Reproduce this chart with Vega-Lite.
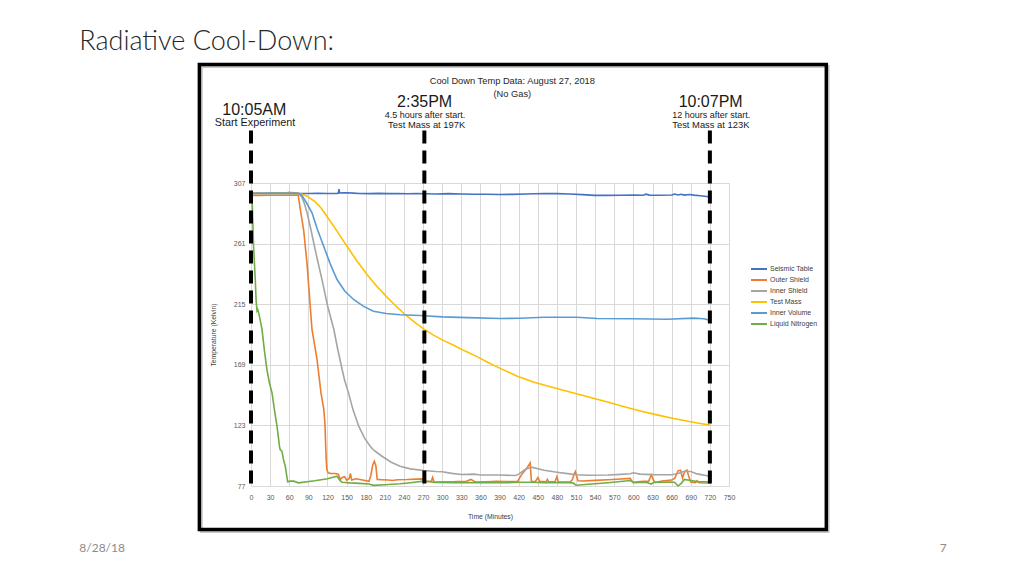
{
  "$schema": "https://vega.github.io/schema/vega-lite/v6.json",
  "width": 478,
  "height": 303,
  "autosize": {"type": "none"},
  "padding": {"left": 251, "top": 183, "right": 295, "bottom": 90},
  "background": "white",
  "config": {"view": {"stroke": null}, "font": "Liberation Sans"},
  "datasets": {
    "one": [{}],
    "markers": [{"minutes": 0}, {"minutes": 272}, {"minutes": 720}],
    "temps": [
      {"series": "Seismic Table", "minutes": 0, "kelvin": 299.2},
      {"series": "Seismic Table", "minutes": 10, "kelvin": 299.3},
      {"series": "Seismic Table", "minutes": 20, "kelvin": 299.2},
      {"series": "Seismic Table", "minutes": 30, "kelvin": 299.4},
      {"series": "Seismic Table", "minutes": 40, "kelvin": 299.5},
      {"series": "Seismic Table", "minutes": 50, "kelvin": 299.4},
      {"series": "Seismic Table", "minutes": 60, "kelvin": 299.7},
      {"series": "Seismic Table", "minutes": 68, "kelvin": 299.6},
      {"series": "Seismic Table", "minutes": 75, "kelvin": 299.1},
      {"series": "Seismic Table", "minutes": 90, "kelvin": 299.0},
      {"series": "Seismic Table", "minutes": 105, "kelvin": 299.1},
      {"series": "Seismic Table", "minutes": 120, "kelvin": 299.0},
      {"series": "Seismic Table", "minutes": 135, "kelvin": 299.1},
      {"series": "Seismic Table", "minutes": 137, "kelvin": 299.2},
      {"series": "Seismic Table", "minutes": 138, "kelvin": 302.4},
      {"series": "Seismic Table", "minutes": 139, "kelvin": 299.4},
      {"series": "Seismic Table", "minutes": 145, "kelvin": 299.5},
      {"series": "Seismic Table", "minutes": 152, "kelvin": 299.6},
      {"series": "Seismic Table", "minutes": 160, "kelvin": 299.3},
      {"series": "Seismic Table", "minutes": 170, "kelvin": 299.0},
      {"series": "Seismic Table", "minutes": 185, "kelvin": 298.9},
      {"series": "Seismic Table", "minutes": 200, "kelvin": 299.1},
      {"series": "Seismic Table", "minutes": 215, "kelvin": 298.9},
      {"series": "Seismic Table", "minutes": 230, "kelvin": 299.0},
      {"series": "Seismic Table", "minutes": 245, "kelvin": 298.8},
      {"series": "Seismic Table", "minutes": 260, "kelvin": 299.0},
      {"series": "Seismic Table", "minutes": 275, "kelvin": 298.8},
      {"series": "Seismic Table", "minutes": 290, "kelvin": 298.7},
      {"series": "Seismic Table", "minutes": 310, "kelvin": 298.9},
      {"series": "Seismic Table", "minutes": 330, "kelvin": 298.7},
      {"series": "Seismic Table", "minutes": 350, "kelvin": 298.5},
      {"series": "Seismic Table", "minutes": 370, "kelvin": 298.5},
      {"series": "Seismic Table", "minutes": 390, "kelvin": 298.3},
      {"series": "Seismic Table", "minutes": 410, "kelvin": 298.4},
      {"series": "Seismic Table", "minutes": 430, "kelvin": 298.6},
      {"series": "Seismic Table", "minutes": 445, "kelvin": 298.8},
      {"series": "Seismic Table", "minutes": 460, "kelvin": 298.9},
      {"series": "Seismic Table", "minutes": 480, "kelvin": 298.9},
      {"series": "Seismic Table", "minutes": 500, "kelvin": 298.6},
      {"series": "Seismic Table", "minutes": 520, "kelvin": 298.2},
      {"series": "Seismic Table", "minutes": 540, "kelvin": 297.6},
      {"series": "Seismic Table", "minutes": 560, "kelvin": 297.6},
      {"series": "Seismic Table", "minutes": 580, "kelvin": 297.7},
      {"series": "Seismic Table", "minutes": 600, "kelvin": 297.8},
      {"series": "Seismic Table", "minutes": 615, "kelvin": 297.7},
      {"series": "Seismic Table", "minutes": 620, "kelvin": 298.5},
      {"series": "Seismic Table", "minutes": 625, "kelvin": 297.8},
      {"series": "Seismic Table", "minutes": 640, "kelvin": 297.7},
      {"series": "Seismic Table", "minutes": 660, "kelvin": 297.9},
      {"series": "Seismic Table", "minutes": 665, "kelvin": 298.6},
      {"series": "Seismic Table", "minutes": 670, "kelvin": 297.9},
      {"series": "Seismic Table", "minutes": 675, "kelvin": 298.4},
      {"series": "Seismic Table", "minutes": 680, "kelvin": 297.8},
      {"series": "Seismic Table", "minutes": 688, "kelvin": 298.3},
      {"series": "Seismic Table", "minutes": 695, "kelvin": 297.8},
      {"series": "Seismic Table", "minutes": 705, "kelvin": 297.3},
      {"series": "Seismic Table", "minutes": 715, "kelvin": 296.8},
      {"series": "Seismic Table", "minutes": 720, "kelvin": 296.4},

      {"series": "Outer Shield", "minutes": 0, "kelvin": 299.2},
      {"series": "Outer Shield", "minutes": 2, "kelvin": 297.6},
      {"series": "Outer Shield", "minutes": 10, "kelvin": 297.6},
      {"series": "Outer Shield", "minutes": 30, "kelvin": 297.7},
      {"series": "Outer Shield", "minutes": 50, "kelvin": 297.7},
      {"series": "Outer Shield", "minutes": 74, "kelvin": 297.8},
      {"series": "Outer Shield", "minutes": 78, "kelvin": 285},
      {"series": "Outer Shield", "minutes": 82.5, "kelvin": 271.7},
      {"series": "Outer Shield", "minutes": 87.8, "kelvin": 246.4},
      {"series": "Outer Shield", "minutes": 95.7, "kelvin": 195.8},
      {"series": "Outer Shield", "minutes": 103.6, "kelvin": 173},
      {"series": "Outer Shield", "minutes": 109.8, "kelvin": 147.7},
      {"series": "Outer Shield", "minutes": 114, "kelvin": 136},
      {"series": "Outer Shield", "minutes": 116, "kelvin": 125},
      {"series": "Outer Shield", "minutes": 117, "kelvin": 110},
      {"series": "Outer Shield", "minutes": 118, "kelvin": 97},
      {"series": "Outer Shield", "minutes": 119, "kelvin": 89.5},
      {"series": "Outer Shield", "minutes": 121, "kelvin": 87},
      {"series": "Outer Shield", "minutes": 125, "kelvin": 86.5},
      {"series": "Outer Shield", "minutes": 132, "kelvin": 86.5},
      {"series": "Outer Shield", "minutes": 137, "kelvin": 86},
      {"series": "Outer Shield", "minutes": 140, "kelvin": 82},
      {"series": "Outer Shield", "minutes": 143, "kelvin": 83.5},
      {"series": "Outer Shield", "minutes": 147, "kelvin": 84},
      {"series": "Outer Shield", "minutes": 150, "kelvin": 81.5},
      {"series": "Outer Shield", "minutes": 154, "kelvin": 82.5},
      {"series": "Outer Shield", "minutes": 156, "kelvin": 86.5},
      {"series": "Outer Shield", "minutes": 158, "kelvin": 81.5},
      {"series": "Outer Shield", "minutes": 165, "kelvin": 82.5},
      {"series": "Outer Shield", "minutes": 175, "kelvin": 81.5},
      {"series": "Outer Shield", "minutes": 185, "kelvin": 80.5},
      {"series": "Outer Shield", "minutes": 188, "kelvin": 85},
      {"series": "Outer Shield", "minutes": 191, "kelvin": 93},
      {"series": "Outer Shield", "minutes": 193.5, "kelvin": 95.8},
      {"series": "Outer Shield", "minutes": 196, "kelvin": 92},
      {"series": "Outer Shield", "minutes": 198, "kelvin": 82},
      {"series": "Outer Shield", "minutes": 205, "kelvin": 81.8},
      {"series": "Outer Shield", "minutes": 215, "kelvin": 81.5},
      {"series": "Outer Shield", "minutes": 222, "kelvin": 81.2},
      {"series": "Outer Shield", "minutes": 230, "kelvin": 81.8},
      {"series": "Outer Shield", "minutes": 245, "kelvin": 81.9},
      {"series": "Outer Shield", "minutes": 260, "kelvin": 82.2},
      {"series": "Outer Shield", "minutes": 270, "kelvin": 82.4},
      {"series": "Outer Shield", "minutes": 275, "kelvin": 80.5},
      {"series": "Outer Shield", "minutes": 283, "kelvin": 80.8},
      {"series": "Outer Shield", "minutes": 285, "kelvin": 83.5},
      {"series": "Outer Shield", "minutes": 287, "kelvin": 80},
      {"series": "Outer Shield", "minutes": 300, "kelvin": 80.2},
      {"series": "Outer Shield", "minutes": 320, "kelvin": 80.3},
      {"series": "Outer Shield", "minutes": 338, "kelvin": 80.6},
      {"series": "Outer Shield", "minutes": 345, "kelvin": 82},
      {"series": "Outer Shield", "minutes": 352, "kelvin": 80},
      {"series": "Outer Shield", "minutes": 370, "kelvin": 80.2},
      {"series": "Outer Shield", "minutes": 385, "kelvin": 80.5},
      {"series": "Outer Shield", "minutes": 400, "kelvin": 80.3},
      {"series": "Outer Shield", "minutes": 418, "kelvin": 80.3},
      {"series": "Outer Shield", "minutes": 425, "kelvin": 86},
      {"series": "Outer Shield", "minutes": 432, "kelvin": 90},
      {"series": "Outer Shield", "minutes": 438, "kelvin": 94.5},
      {"series": "Outer Shield", "minutes": 440, "kelvin": 80.6},
      {"series": "Outer Shield", "minutes": 446, "kelvin": 80.3},
      {"series": "Outer Shield", "minutes": 450, "kelvin": 83.3},
      {"series": "Outer Shield", "minutes": 453, "kelvin": 80.5},
      {"series": "Outer Shield", "minutes": 463, "kelvin": 80.2},
      {"series": "Outer Shield", "minutes": 465, "kelvin": 82},
      {"series": "Outer Shield", "minutes": 467, "kelvin": 80.2},
      {"series": "Outer Shield", "minutes": 477, "kelvin": 80.2},
      {"series": "Outer Shield", "minutes": 480, "kelvin": 84.1},
      {"series": "Outer Shield", "minutes": 482, "kelvin": 80.2},
      {"series": "Outer Shield", "minutes": 500, "kelvin": 80},
      {"series": "Outer Shield", "minutes": 504, "kelvin": 81.5},
      {"series": "Outer Shield", "minutes": 507, "kelvin": 86},
      {"series": "Outer Shield", "minutes": 509, "kelvin": 88},
      {"series": "Outer Shield", "minutes": 513, "kelvin": 81},
      {"series": "Outer Shield", "minutes": 520, "kelvin": 80.8},
      {"series": "Outer Shield", "minutes": 540, "kelvin": 81.3},
      {"series": "Outer Shield", "minutes": 560, "kelvin": 81.8},
      {"series": "Outer Shield", "minutes": 580, "kelvin": 82.3},
      {"series": "Outer Shield", "minutes": 595, "kelvin": 82.8},
      {"series": "Outer Shield", "minutes": 599, "kelvin": 79.9},
      {"series": "Outer Shield", "minutes": 610, "kelvin": 80.4},
      {"series": "Outer Shield", "minutes": 624, "kelvin": 80.7},
      {"series": "Outer Shield", "minutes": 628, "kelvin": 85.5},
      {"series": "Outer Shield", "minutes": 631, "kelvin": 82},
      {"series": "Outer Shield", "minutes": 634, "kelvin": 79.6},
      {"series": "Outer Shield", "minutes": 645, "kelvin": 80.8},
      {"series": "Outer Shield", "minutes": 660, "kelvin": 81.5},
      {"series": "Outer Shield", "minutes": 665, "kelvin": 83},
      {"series": "Outer Shield", "minutes": 670, "kelvin": 88.5},
      {"series": "Outer Shield", "minutes": 674, "kelvin": 89},
      {"series": "Outer Shield", "minutes": 677, "kelvin": 83},
      {"series": "Outer Shield", "minutes": 680, "kelvin": 87.5},
      {"series": "Outer Shield", "minutes": 684, "kelvin": 89},
      {"series": "Outer Shield", "minutes": 687, "kelvin": 84},
      {"series": "Outer Shield", "minutes": 690, "kelvin": 80},
      {"series": "Outer Shield", "minutes": 697, "kelvin": 79.5},
      {"series": "Outer Shield", "minutes": 700, "kelvin": 81},
      {"series": "Outer Shield", "minutes": 703, "kelvin": 79.5},
      {"series": "Outer Shield", "minutes": 720, "kelvin": 79.3},

      {"series": "Inner Shield", "minutes": 0, "kelvin": 299.2},
      {"series": "Inner Shield", "minutes": 20, "kelvin": 299.1},
      {"series": "Inner Shield", "minutes": 40, "kelvin": 299.1},
      {"series": "Inner Shield", "minutes": 60, "kelvin": 299.2},
      {"series": "Inner Shield", "minutes": 75, "kelvin": 299},
      {"series": "Inner Shield", "minutes": 80, "kelvin": 296},
      {"series": "Inner Shield", "minutes": 84, "kelvin": 291},
      {"series": "Inner Shield", "minutes": 88, "kelvin": 284.4},
      {"series": "Inner Shield", "minutes": 94, "kelvin": 271.7},
      {"series": "Inner Shield", "minutes": 100, "kelvin": 258},
      {"series": "Inner Shield", "minutes": 105, "kelvin": 247},
      {"series": "Inner Shield", "minutes": 111.4, "kelvin": 233.7},
      {"series": "Inner Shield", "minutes": 120, "kelvin": 214},
      {"series": "Inner Shield", "minutes": 130, "kelvin": 195.8},
      {"series": "Inner Shield", "minutes": 136, "kelvin": 181},
      {"series": "Inner Shield", "minutes": 143, "kelvin": 165.4},
      {"series": "Inner Shield", "minutes": 147, "kelvin": 157},
      {"series": "Inner Shield", "minutes": 153, "kelvin": 147.7},
      {"series": "Inner Shield", "minutes": 160, "kelvin": 135},
      {"series": "Inner Shield", "minutes": 169, "kelvin": 122.4},
      {"series": "Inner Shield", "minutes": 178, "kelvin": 113.5},
      {"series": "Inner Shield", "minutes": 187, "kelvin": 107.2},
      {"series": "Inner Shield", "minutes": 192, "kelvin": 104.5},
      {"series": "Inner Shield", "minutes": 196, "kelvin": 103},
      {"series": "Inner Shield", "minutes": 205.5, "kelvin": 99.6},
      {"series": "Inner Shield", "minutes": 220, "kelvin": 95},
      {"series": "Inner Shield", "minutes": 234, "kelvin": 92},
      {"series": "Inner Shield", "minutes": 250, "kelvin": 90},
      {"series": "Inner Shield", "minutes": 271, "kelvin": 88.8},
      {"series": "Inner Shield", "minutes": 290, "kelvin": 88},
      {"series": "Inner Shield", "minutes": 300, "kelvin": 87.8},
      {"series": "Inner Shield", "minutes": 315, "kelvin": 86.6},
      {"series": "Inner Shield", "minutes": 330, "kelvin": 85.7},
      {"series": "Inner Shield", "minutes": 350, "kelvin": 86},
      {"series": "Inner Shield", "minutes": 360, "kelvin": 85.4},
      {"series": "Inner Shield", "minutes": 390, "kelvin": 85.3},
      {"series": "Inner Shield", "minutes": 415, "kelvin": 85},
      {"series": "Inner Shield", "minutes": 420, "kelvin": 86},
      {"series": "Inner Shield", "minutes": 430, "kelvin": 89.5},
      {"series": "Inner Shield", "minutes": 440, "kelvin": 91.3},
      {"series": "Inner Shield", "minutes": 460, "kelvin": 89},
      {"series": "Inner Shield", "minutes": 480, "kelvin": 87.5},
      {"series": "Inner Shield", "minutes": 500, "kelvin": 86.2},
      {"series": "Inner Shield", "minutes": 510, "kelvin": 85.5},
      {"series": "Inner Shield", "minutes": 530, "kelvin": 85.2},
      {"series": "Inner Shield", "minutes": 560, "kelvin": 85.3},
      {"series": "Inner Shield", "minutes": 580, "kelvin": 85.8},
      {"series": "Inner Shield", "minutes": 595, "kelvin": 86.3},
      {"series": "Inner Shield", "minutes": 600, "kelvin": 87},
      {"series": "Inner Shield", "minutes": 610, "kelvin": 86},
      {"series": "Inner Shield", "minutes": 630, "kelvin": 85.6},
      {"series": "Inner Shield", "minutes": 660, "kelvin": 85.5},
      {"series": "Inner Shield", "minutes": 670, "kelvin": 86.5},
      {"series": "Inner Shield", "minutes": 680, "kelvin": 88.2},
      {"series": "Inner Shield", "minutes": 690, "kelvin": 88},
      {"series": "Inner Shield", "minutes": 700, "kelvin": 86.2},
      {"series": "Inner Shield", "minutes": 720, "kelvin": 84.4},

      {"series": "Test Mass", "minutes": 0, "kelvin": 299},
      {"series": "Test Mass", "minutes": 20, "kelvin": 299},
      {"series": "Test Mass", "minutes": 40, "kelvin": 299.1},
      {"series": "Test Mass", "minutes": 60, "kelvin": 299.2},
      {"series": "Test Mass", "minutes": 75, "kelvin": 299},
      {"series": "Test Mass", "minutes": 80, "kelvin": 298.5},
      {"series": "Test Mass", "minutes": 88, "kelvin": 297},
      {"series": "Test Mass", "minutes": 100, "kelvin": 293},
      {"series": "Test Mass", "minutes": 110, "kelvin": 288},
      {"series": "Test Mass", "minutes": 119, "kelvin": 281.8},
      {"series": "Test Mass", "minutes": 135, "kelvin": 270.5},
      {"series": "Test Mass", "minutes": 150.6, "kelvin": 259},
      {"series": "Test Mass", "minutes": 166, "kelvin": 248},
      {"series": "Test Mass", "minutes": 182, "kelvin": 237.5},
      {"series": "Test Mass", "minutes": 197, "kelvin": 228.8},
      {"series": "Test Mass", "minutes": 213, "kelvin": 220.6},
      {"series": "Test Mass", "minutes": 228, "kelvin": 213.3},
      {"series": "Test Mass", "minutes": 242, "kelvin": 207},
      {"series": "Test Mass", "minutes": 256, "kelvin": 201.5},
      {"series": "Test Mass", "minutes": 270.8, "kelvin": 196.3},
      {"series": "Test Mass", "minutes": 285, "kelvin": 191.9},
      {"series": "Test Mass", "minutes": 300, "kelvin": 187.9},
      {"series": "Test Mass", "minutes": 318, "kelvin": 183.8},
      {"series": "Test Mass", "minutes": 336, "kelvin": 179.4},
      {"series": "Test Mass", "minutes": 354.6, "kelvin": 175.2},
      {"series": "Test Mass", "minutes": 372, "kelvin": 170.8},
      {"series": "Test Mass", "minutes": 391, "kelvin": 166.3},
      {"series": "Test Mass", "minutes": 417, "kelvin": 160.5},
      {"series": "Test Mass", "minutes": 443, "kelvin": 156},
      {"series": "Test Mass", "minutes": 469.6, "kelvin": 152.4},
      {"series": "Test Mass", "minutes": 493, "kelvin": 149.3},
      {"series": "Test Mass", "minutes": 516.7, "kelvin": 146.3},
      {"series": "Test Mass", "minutes": 540, "kelvin": 143.3},
      {"series": "Test Mass", "minutes": 563.8, "kelvin": 140.2},
      {"series": "Test Mass", "minutes": 587, "kelvin": 137},
      {"series": "Test Mass", "minutes": 610.9, "kelvin": 134},
      {"series": "Test Mass", "minutes": 637, "kelvin": 131},
      {"series": "Test Mass", "minutes": 663, "kelvin": 128.2},
      {"series": "Test Mass", "minutes": 690, "kelvin": 125.8},
      {"series": "Test Mass", "minutes": 705, "kelvin": 124.5},
      {"series": "Test Mass", "minutes": 720, "kelvin": 123.2},

      {"series": "Inner Volume", "minutes": 0, "kelvin": 299},
      {"series": "Inner Volume", "minutes": 30, "kelvin": 299.1},
      {"series": "Inner Volume", "minutes": 60, "kelvin": 299.2},
      {"series": "Inner Volume", "minutes": 76, "kelvin": 299},
      {"series": "Inner Volume", "minutes": 80, "kelvin": 297.5},
      {"series": "Inner Volume", "minutes": 87, "kelvin": 292},
      {"series": "Inner Volume", "minutes": 95.7, "kelvin": 284.4},
      {"series": "Inner Volume", "minutes": 104, "kelvin": 272},
      {"series": "Inner Volume", "minutes": 114, "kelvin": 259},
      {"series": "Inner Volume", "minutes": 124, "kelvin": 246},
      {"series": "Inner Volume", "minutes": 135, "kelvin": 233.7},
      {"series": "Inner Volume", "minutes": 147, "kelvin": 225},
      {"series": "Inner Volume", "minutes": 161, "kelvin": 218.6},
      {"series": "Inner Volume", "minutes": 176, "kelvin": 213.5},
      {"series": "Inner Volume", "minutes": 192, "kelvin": 209.7},
      {"series": "Inner Volume", "minutes": 212, "kelvin": 208},
      {"series": "Inner Volume", "minutes": 234, "kelvin": 207},
      {"series": "Inner Volume", "minutes": 265.6, "kelvin": 206.4},
      {"series": "Inner Volume", "minutes": 300, "kelvin": 205.4},
      {"series": "Inner Volume", "minutes": 340, "kelvin": 204.8},
      {"series": "Inner Volume", "minutes": 391, "kelvin": 204.2},
      {"series": "Inner Volume", "minutes": 422, "kelvin": 204.3},
      {"series": "Inner Volume", "minutes": 459, "kelvin": 205.1},
      {"series": "Inner Volume", "minutes": 511, "kelvin": 205.1},
      {"series": "Inner Volume", "minutes": 543, "kelvin": 204.2},
      {"series": "Inner Volume", "minutes": 600, "kelvin": 203.9},
      {"series": "Inner Volume", "minutes": 652.8, "kelvin": 203.6},
      {"series": "Inner Volume", "minutes": 694.5, "kelvin": 204.4},
      {"series": "Inner Volume", "minutes": 710, "kelvin": 204},
      {"series": "Inner Volume", "minutes": 720, "kelvin": 202.9},

      {"series": "Liquid Nitrogen", "minutes": 0, "kelvin": 299.5},
      {"series": "Liquid Nitrogen", "minutes": 1.6, "kelvin": 297},
      {"series": "Liquid Nitrogen", "minutes": 3, "kelvin": 275},
      {"series": "Liquid Nitrogen", "minutes": 4, "kelvin": 259},
      {"series": "Liquid Nitrogen", "minutes": 6.7, "kelvin": 233.7},
      {"series": "Liquid Nitrogen", "minutes": 8, "kelvin": 218},
      {"series": "Liquid Nitrogen", "minutes": 9.4, "kelvin": 210},
      {"series": "Liquid Nitrogen", "minutes": 10.5, "kelvin": 211},
      {"series": "Liquid Nitrogen", "minutes": 12, "kelvin": 208.5},
      {"series": "Liquid Nitrogen", "minutes": 14, "kelvin": 204},
      {"series": "Liquid Nitrogen", "minutes": 17.3, "kelvin": 195.8},
      {"series": "Liquid Nitrogen", "minutes": 21, "kelvin": 180},
      {"series": "Liquid Nitrogen", "minutes": 25, "kelvin": 165.4},
      {"series": "Liquid Nitrogen", "minutes": 29, "kelvin": 155},
      {"series": "Liquid Nitrogen", "minutes": 33, "kelvin": 147.7},
      {"series": "Liquid Nitrogen", "minutes": 37, "kelvin": 134},
      {"series": "Liquid Nitrogen", "minutes": 40.8, "kelvin": 122.4},
      {"series": "Liquid Nitrogen", "minutes": 45, "kelvin": 106},
      {"series": "Liquid Nitrogen", "minutes": 46, "kelvin": 104.5},
      {"series": "Liquid Nitrogen", "minutes": 48.6, "kelvin": 103.4},
      {"series": "Liquid Nitrogen", "minutes": 51, "kelvin": 97},
      {"series": "Liquid Nitrogen", "minutes": 53.8, "kelvin": 92},
      {"series": "Liquid Nitrogen", "minutes": 57.5, "kelvin": 80.2},
      {"series": "Liquid Nitrogen", "minutes": 61.7, "kelvin": 80.7},
      {"series": "Liquid Nitrogen", "minutes": 67, "kelvin": 80.7},
      {"series": "Liquid Nitrogen", "minutes": 74.7, "kelvin": 79.4},
      {"series": "Liquid Nitrogen", "minutes": 100, "kelvin": 81},
      {"series": "Liquid Nitrogen", "minutes": 120, "kelvin": 82.5},
      {"series": "Liquid Nitrogen", "minutes": 135, "kelvin": 84.4},
      {"series": "Liquid Nitrogen", "minutes": 140, "kelvin": 81},
      {"series": "Liquid Nitrogen", "minutes": 142.8, "kelvin": 79.9},
      {"series": "Liquid Nitrogen", "minutes": 155, "kelvin": 79.4},
      {"series": "Liquid Nitrogen", "minutes": 170, "kelvin": 79},
      {"series": "Liquid Nitrogen", "minutes": 185, "kelvin": 78.5},
      {"series": "Liquid Nitrogen", "minutes": 192, "kelvin": 77.5},
      {"series": "Liquid Nitrogen", "minutes": 210, "kelvin": 78},
      {"series": "Liquid Nitrogen", "minutes": 234, "kelvin": 78.7},
      {"series": "Liquid Nitrogen", "minutes": 250, "kelvin": 79.5},
      {"series": "Liquid Nitrogen", "minutes": 270.8, "kelvin": 80.7},
      {"series": "Liquid Nitrogen", "minutes": 290, "kelvin": 79.6},
      {"series": "Liquid Nitrogen", "minutes": 320, "kelvin": 79.5},
      {"series": "Liquid Nitrogen", "minutes": 360, "kelvin": 79.6},
      {"series": "Liquid Nitrogen", "minutes": 400, "kelvin": 79.5},
      {"series": "Liquid Nitrogen", "minutes": 420, "kelvin": 79.8},
      {"series": "Liquid Nitrogen", "minutes": 440, "kelvin": 79.9},
      {"series": "Liquid Nitrogen", "minutes": 460, "kelvin": 79.6},
      {"series": "Liquid Nitrogen", "minutes": 490, "kelvin": 79.6},
      {"series": "Liquid Nitrogen", "minutes": 505, "kelvin": 79.4},
      {"series": "Liquid Nitrogen", "minutes": 510, "kelvin": 77.6},
      {"series": "Liquid Nitrogen", "minutes": 530, "kelvin": 78.3},
      {"series": "Liquid Nitrogen", "minutes": 560, "kelvin": 79.5},
      {"series": "Liquid Nitrogen", "minutes": 595, "kelvin": 81.2},
      {"series": "Liquid Nitrogen", "minutes": 600, "kelvin": 79.5},
      {"series": "Liquid Nitrogen", "minutes": 620, "kelvin": 79.8},
      {"series": "Liquid Nitrogen", "minutes": 628, "kelvin": 78.5},
      {"series": "Liquid Nitrogen", "minutes": 632, "kelvin": 79.8},
      {"series": "Liquid Nitrogen", "minutes": 660, "kelvin": 80},
      {"series": "Liquid Nitrogen", "minutes": 665, "kelvin": 79.6},
      {"series": "Liquid Nitrogen", "minutes": 670, "kelvin": 77},
      {"series": "Liquid Nitrogen", "minutes": 675, "kelvin": 79},
      {"series": "Liquid Nitrogen", "minutes": 680, "kelvin": 82},
      {"series": "Liquid Nitrogen", "minutes": 690, "kelvin": 81.2},
      {"series": "Liquid Nitrogen", "minutes": 700, "kelvin": 80.3},
      {"series": "Liquid Nitrogen", "minutes": 720, "kelvin": 80}
    ]
  },
  "layer": [
    {
      "data": {"name": "one"},
      "mark": {"type": "rect", "fill": "white", "fillOpacity": 0, "stroke": "#c8c8c8", "strokeWidth": 3},
      "encoding": {"x": {"datum": -78}, "x2": {"datum": 905.5}, "y": {"datum": 395.5}, "y2": {"datum": 42.5}}
    },
    {
      "data": {"name": "one"},
      "mark": {"type": "rect", "fill": "white", "fillOpacity": 0, "stroke": "black", "strokeWidth": 3.5},
      "encoding": {"x": {"datum": -81}, "x2": {"datum": 902.7}, "y": {"datum": 397}, "y2": {"datum": 44}}
    },
    {
      "data": {"name": "temps"},
      "mark": {"type": "line", "strokeWidth": 1.6},
      "encoding": {
        "x": {
          "field": "minutes", "type": "quantitative",
          "scale": {"domain": [0, 750], "nice": false, "zero": false},
          "axis": {
            "title": "Time (Minutes)",
            "values": [0, 30, 60, 90, 120, 150, 180, 210, 240, 270, 300, 330, 360, 390, 420, 450, 480, 510, 540, 570, 600, 630, 660, 690, 720, 750],
            "tickCount": 40,
            "grid": true, "gridColor": "#d9d9d9", "gridWidth": 1,
            "domain": false, "ticks": false,
            "labelFontSize": 7, "labelColor": "#595959", "labelPadding": 7,
            "labelFlush": false, "labelOverlap": false, "labelBound": false,
            "titleFontSize": 6.8, "titleFontWeight": "normal", "titleColor": "#404040", "titlePadding": 13
          }
        },
        "y": {
          "field": "kelvin", "type": "quantitative",
          "scale": {"domain": [77, 307], "nice": false, "zero": false},
          "axis": {
            "title": "Temperature (Kelvin)",
            "values": [77, 123, 169, 215, 261, 307],
            "tickCount": 10,
            "grid": true, "gridColor": "#d9d9d9", "gridWidth": 1,
            "domain": false, "ticks": false,
            "labelFontSize": 7, "labelColor": "#595959", "labelPadding": 6,
            "labelFlush": false, "labelOverlap": false,
            "titleFontSize": 6.8, "titleFontWeight": "normal", "titleColor": "#404040", "titlePadding": 17
          }
        },
        "color": {
          "field": "series", "type": "nominal",
          "scale": {
            "domain": ["Seismic Table", "Outer Shield", "Inner Shield", "Test Mass", "Inner Volume", "Liquid Nitrogen"],
            "range": ["#4472c4", "#ed7d31", "#a5a5a5", "#ffc000", "#5b9bd5", "#70ad47"]
          },
          "legend": {
            "title": null, "orient": "none", "legendX": 502, "legendY": 80,
            "symbolType": "M-1.6,0H1.6", "symbolSize": 100, "symbolStrokeWidth": 2,
            "symbolFillColor": "transparent",
            "labelFontSize": 7, "labelColor": "#404040", "labelOffset": 5,
            "rowPadding": 1, "padding": 0
          }
        }
      }
    },
    {
      "data": {"name": "markers"},
      "mark": {"type": "rule", "strokeWidth": 4, "strokeDash": [13, 7], "color": "black"},
      "encoding": {"x": {"field": "minutes", "type": "quantitative"}, "y": {"datum": 346.9}, "y2": {"datum": 74}}
    },
    {
      "data": {"name": "one"},
      "mark": {"type": "text", "text": "Radiative Cool-Down:", "font": "Lato", "fontWeight": 300, "fontSize": 27, "align": "left", "baseline": "alphabetic", "color": "#262626"},
      "encoding": {"x": {"datum": -269.4}, "y": {"datum": 408.3}}
    },
    {
      "data": {"name": "one"},
      "mark": {"type": "text", "text": "8/28/18", "font": "Lato", "fontSize": 12, "align": "left", "baseline": "middle", "color": "#8b8b8b"},
      "encoding": {"x": {"datum": -269.4}, "y": {"datum": 29.6}}
    },
    {
      "data": {"name": "one"},
      "mark": {"type": "text", "text": "7", "font": "Lato", "fontSize": 12, "align": "center", "baseline": "middle", "color": "#8b8b8b"},
      "encoding": {"x": {"datum": 1086.3}, "y": {"datum": 29.6}}
    },
    {
      "data": {"name": "one"},
      "mark": {"type": "text", "text": "Cool Down Temp Data: August 27, 2018", "fontSize": 9.3, "align": "center", "baseline": "alphabetic", "color": "#262626"},
      "encoding": {"x": {"datum": 410}, "y": {"datum": 382.2}}
    },
    {
      "data": {"name": "one"},
      "mark": {"type": "text", "text": "(No Gas)", "fontSize": 9.3, "align": "center", "baseline": "alphabetic", "color": "#262626"},
      "encoding": {"x": {"datum": 410}, "y": {"datum": 372.3}}
    },
    {
      "data": {"name": "one"},
      "mark": {"type": "text", "text": "10:05AM", "fontSize": 16, "align": "center", "baseline": "alphabetic", "color": "#1a1a1a"},
      "encoding": {"x": {"datum": 5.2}, "y": {"datum": 358.9}}
    },
    {
      "data": {"name": "one"},
      "mark": {"type": "text", "text": "Start Experiment", "fontSize": 10.8, "align": "center", "baseline": "alphabetic", "color": "#1a1a1a"},
      "encoding": {"x": {"datum": 6.3}, "y": {"datum": 350.1}}
    },
    {
      "data": {"name": "one"},
      "mark": {"type": "text", "text": "2:35PM", "fontSize": 16, "align": "center", "baseline": "alphabetic", "color": "#1a1a1a"},
      "encoding": {"x": {"datum": 272.4}, "y": {"datum": 364.5}}
    },
    {
      "data": {"name": "one"},
      "mark": {"type": "text", "text": "4.5 hours after start.", "fontSize": 9, "align": "center", "baseline": "alphabetic", "color": "#1a1a1a"},
      "encoding": {"x": {"datum": 273}, "y": {"datum": 356.6}}
    },
    {
      "data": {"name": "one"},
      "mark": {"type": "text", "text": "Test Mass at 197K", "fontSize": 9.4, "align": "center", "baseline": "alphabetic", "color": "#1a1a1a"},
      "encoding": {"x": {"datum": 275.6}, "y": {"datum": 348.6}}
    },
    {
      "data": {"name": "one"},
      "mark": {"type": "text", "text": "10:07PM", "fontSize": 16, "align": "center", "baseline": "alphabetic", "color": "#1a1a1a"},
      "encoding": {"x": {"datum": 721.2}, "y": {"datum": 364.5}}
    },
    {
      "data": {"name": "one"},
      "mark": {"type": "text", "text": "12 hours after start.", "fontSize": 9, "align": "center", "baseline": "alphabetic", "color": "#1a1a1a"},
      "encoding": {"x": {"datum": 722}, "y": {"datum": 356}}
    },
    {
      "data": {"name": "one"},
      "mark": {"type": "text", "text": "Test Mass at 123K", "fontSize": 9.4, "align": "center", "baseline": "alphabetic", "color": "#1a1a1a"},
      "encoding": {"x": {"datum": 721.5}, "y": {"datum": 348.6}}
    }
  ]
}
